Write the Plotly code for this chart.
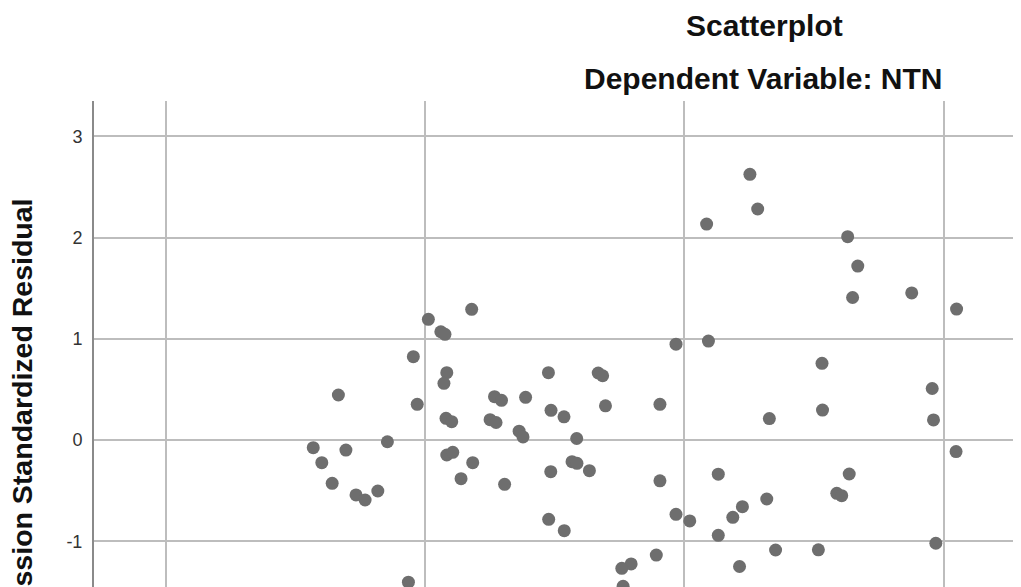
import plotly.graph_objects as go

# Regression Standardized Predicted Value (x) and Standardized Residual (y)
pred = [0.253, 0.283, 0.086, 0.630, 0.669, 0.649, 0.877, 1.050, -0.820, -0.987,
        -0.939, -0.923, -1.045, -0.032, 0.093, 0.531, -0.916, -0.927, -1.334, -0.524,
        -0.332, -0.315, -1.030, -0.732, -0.705, -0.612, -0.919, -0.897, -0.749, -0.726,
        -0.514, -0.464, -0.304, -0.094, 0.533, 0.328, 0.956, 0.961, -1.145, -1.431,
        -1.305, -1.398, -0.916, -0.893, -0.816, -1.358, -0.861, -0.693, -1.266, -1.231,
        -1.182, -0.637, -0.622, -0.415, -0.433, -0.414, -0.515, -0.366, -0.094, 0.131,
        0.636, 1.048, 0.588, 0.607, 0.318, 0.224, 0.187, -0.523, -0.463, -0.032,
        0.021, 0.131, 0.970, -0.108, 0.352, 0.517, -0.205, -0.241, 0.213, -0.236,
        -1.064]
resid = [2.625, 2.283, 2.134, 2.009, 1.719, 1.408, 1.453, 1.294, 1.291, 1.193,
         1.070, 1.044, 0.823, 0.947, 0.978, 0.758, 0.665, 0.560, 0.445, 0.665,
         0.662, 0.635, 0.353, 0.428, 0.392, 0.422, 0.214, 0.181, 0.201, 0.173,
         0.293, 0.229, 0.338, 0.353, 0.296, 0.212, 0.509, 0.198, -0.017, -0.076,
         -0.099, -0.224, -0.148, -0.122, -0.224, -0.428, -0.382, -0.438, -0.543, -0.593,
         -0.504, 0.087, 0.030, 0.015, -0.214, -0.230, -0.313, -0.303, -0.403, -0.338,
         -0.336, -0.114, -0.527, -0.550, -0.583, -0.659, -0.764, -0.784, -0.896, -0.734,
         -0.800, -0.942, -1.020, -1.137, -1.087, -1.085, -1.225, -1.268, -1.250, -1.446,
         -1.405]

y_ticks = [-1, 0, 1, 2, 3]
x_grid = [-2, -1, 0, 1]

title_main = "Scatterplot"
title_sub = "Dependent Variable: NTN"
y_title = "Regression Standardized Residual"

FONT = "Liberation Sans, Arial, sans-serif"

fig = go.Figure()
fig.add_trace(go.Scatter(
    x=pred, y=resid, mode="markers",
    marker=dict(size=13, color="#6e6e6e", line=dict(width=0)),
    hoverinfo="skip", showlegend=False,
))

fig.update_layout(
    width=1021, height=587,
    margin=dict(l=86, r=0, t=93, b=0, pad=0),
    paper_bgcolor="white", plot_bgcolor="white",
    font=dict(family=FONT, color="#222222"),
    xaxis=dict(
        range=[-2.2765, 1.3293], tickvals=x_grid, showticklabels=False,
        showgrid=True, gridcolor="#bdbdbd", gridwidth=1.5,
        zeroline=False, showline=False, ticks="",
    ),
    yaxis=dict(
        range=[-1.5316, 3.350], tickvals=y_ticks,
        ticktext=[str(v) for v in y_ticks],
        showgrid=True, gridcolor="#bdbdbd", gridwidth=1.5,
        zeroline=False, showline=True, linecolor="#8a8a8a", linewidth=2,
        ticks="", ticklabelstandoff=6,
        tickfont=dict(family=FONT, size=18, color="#333333"),
    ),
    annotations=[
        dict(text="<b>%s</b>" % title_main, xref="paper", yref="paper",
             x=0.7176, y=1.1520, xanchor="center", yanchor="middle",
             showarrow=False, font=dict(family=FONT, size=30, color="#111111")),
        dict(text="<b>%s</b>" % title_sub, xref="paper", yref="paper",
             x=0.7160, y=1.0455, xanchor="center", yanchor="middle",
             showarrow=False, font=dict(family=FONT, size=30, color="#111111")),
        dict(text="<b>%s</b>" % y_title, xref="paper", yref="paper",
             x=-0.0773, y=0.8076, xanchor="center", yanchor="top",
             textangle=-90, showarrow=False,
             font=dict(family=FONT, size=28.5, color="#111111")),
    ],
)

fig.write_html("out.html", config={"displayModeBar": False})
